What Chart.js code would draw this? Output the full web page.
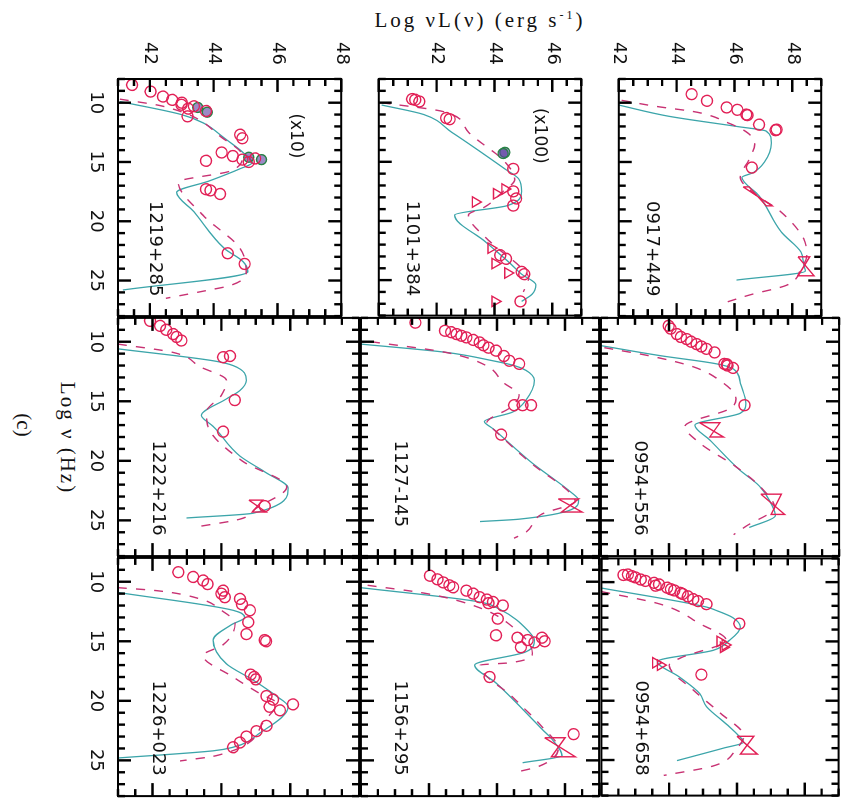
<!DOCTYPE html>
<html>
<head>
<meta charset="utf-8">
<script src="https://cdn.jsdelivr.net/npm/chart.js@4.4.1/dist/chart.umd.min.js"></script>
<style>
body { margin: 0; background: #fff; width: 849px; height: 803px; overflow: hidden; }
/* the figure is built upright and turned a quarter turn, like the scan */
#fig { position: absolute; left: 0; top: 0; width: 803px; height: 849px; transform-origin: 0 0; transform: translate(849px, 0) rotate(90deg); }
#fig canvas { position: absolute; }
.lbl { position: absolute; font-family: 'Liberation Serif', 'DejaVu Serif', serif; color: #111; white-space: nowrap; }
</style>
</head>
<body>
<div id="fig">
  <div class="lbl" style="left:20px;top:369px;font-size:21px;letter-spacing:3px;transform:translate(-50%,-50%) rotate(-90deg)">Log &nu;L(&nu;) (erg s<sup style="font-size:12px">-1</sup>)</div>
  <div class="lbl" style="left:438px;top:782px;font-size:21px;letter-spacing:2px;transform:translate(-50%,-50%)">Log &nu; (Hz)</div>
  <div class="lbl" style="left:425px;top:826px;font-size:21px;transform:translate(-50%,-50%)">(c)</div>
</div>
<script>
// Panneaux, ligne par ligne (figure droite)
const panelNames = ['0917+449', '0954+556', '0954+658',
                    '1101+384', '1127-145', '1156+295',
                    '1219+285', '1222+216', '1226+023'];
const panelNotes = ['', '', '', '(x100)', '', '', '(x10)', '', ''];
const yMins = [42, 42, 42, 40, 40, 40, 41, 41, 41];
const yMaxs = [49, 49, 49, 47, 47, 47, 48, 48, 48];
const xMin = 8, xMax = 28;
const xTickLabels = [10, 15, 20, 25];
const yTickLabels = [[42, 44, 46, 48], [42, 44, 46], [42, 44, 46, 48]];
// graduations du cadre : toutes les unités en x, demi-unités en y
const xFrameTicks = [8, 9, 10, 11, 12, 13, 14, 15, 16, 17, 18, 19, 20, 21, 22, 23, 24, 25, 26, 27, 28];
const yFrameStep = 0.5;

// points observés [log nu, log nuL]
const circles = [
  [[9.28,44.52],[9.84,45.05],[10.4,45.73],[10.6,46.1],[11.0,46.41],[11.05,46.45],[11.85,46.85],[12.27,47.46],[12.32,47.42],[15.47,46.6]],
  [[8.67,43.99],[8.9,44.05],[9.36,44.23],[9.6,44.35],[9.78,44.52],[10.0,44.65],[10.2,44.81],[10.4,44.95],[10.6,45.1],[10.9,45.34],[11.86,45.63],[11.9,45.7],[12.0,45.72],[12.2,45.88],[15.33,46.22]],
  [[9.36,42.78],[9.4,42.65],[9.5,42.9],[9.6,43.0],[9.78,43.16],[9.9,43.3],[10.06,43.55],[10.2,43.7],[10.3,43.6],[10.47,43.94],[10.6,44.05],[10.7,44.15],[10.9,44.33],[11.0,44.4],[11.2,44.55],[11.44,44.71],[11.6,44.85],[11.86,45.1],[13.5,46.07],[17.8,44.95]],
  [[9.7,41.15],[9.76,41.26],[9.9,41.4],[11.3,42.33],[11.4,42.45],[15.6,44.65],[17.5,44.65],[18.1,44.75],[18.7,44.65],[22.9,44.2],[23.2,44.4],[24.3,44.94],[24.5,45.03],[26.8,44.9]],
  [[8.4,41.6],[9.08,42.47],[9.2,42.65],[9.36,42.81],[9.5,42.95],[9.64,43.1],[9.85,43.3],[10.06,43.49],[10.3,43.6],[10.5,43.75],[10.75,43.97],[11.2,44.2],[11.6,44.36],[11.86,44.65],[15.33,44.5],[15.33,44.75],[15.33,45.0],[17.8,44.12]],
  [[9.5,42.03],[9.8,42.25],[10.06,42.42],[10.3,42.6],[10.47,42.71],[10.75,43.1],[11.0,43.3],[11.3,43.49],[11.5,43.7],[11.7,43.88],[11.8,43.75],[12.0,44.17],[13.1,44.02],[14.5,43.97],[14.7,44.6],[14.9,44.9],[15.1,45.1],[14.7,45.32],[15.0,45.4],[15.5,44.7],[18.0,43.78],[22.8,46.25]],
  [[8.5,41.44],[9.06,42.02],[9.48,42.41],[9.76,42.7],[10.0,43.0],[10.17,42.99],[10.3,43.38],[10.5,43.2],[10.7,43.76],[11.15,43.18],[12.7,44.83],[13.0,44.9],[14.2,44.25],[14.5,44.6],[14.8,44.9],[15.0,45.1],[14.7,45.3],[14.9,43.76],[17.3,43.76],[17.4,43.9],[17.7,44.2],[22.7,44.44],[23.6,44.97]],
  [[8.25,41.93],[8.67,42.22],[9.0,42.4],[9.36,42.6],[9.6,42.7],[9.9,42.84],[11.2,44.25],[11.3,44.05],[14.9,44.39],[17.55,44.05],[23.8,45.26]],
  [[9.2,42.75],[9.6,43.18],[9.9,43.47],[10.2,43.6],[10.75,44.05],[11.0,44.0],[11.3,44.1],[11.44,44.54],[11.9,44.6],[12.4,44.83],[13.4,44.78],[14.4,44.73],[14.9,45.26],[15.0,45.3],[17.8,44.85],[18.0,44.95],[18.2,45.0],[19.6,45.31],[19.9,45.5],[20.5,45.4],[20.3,46.08],[20.8,45.7],[22.1,45.31],[22.55,45.02],[23.0,44.73],[23.5,44.54],[23.9,44.34]]
];
const triangles = [
  [], [], [[15.0,45.5],[15.3,45.65],[15.5,45.6],[16.8,43.6],[17.0,43.74]],
  [[17.3,44.36],[17.7,44.07],[18.4,43.34],[22.3,43.88],[23.6,44.02],[24.4,44.46],[26.8,44.02]],
  [], [], [], [], []
];
const colouredPts = [[], [], [], [[14.2,44.36],[14.3,44.3]], [], [], [[10.4,43.5],[10.8,43.8],[14.6,45.1],[14.8,45.5]], [], []];
// spectres X / gamma en "noeud papillon"
const bowties = [
  [[[17.1,46.3],[18.7,47.3],[18.7,47.1],[17.1,46.5],[17.1,46.3]], [[23.0,48.2],[24.6,48.75],[24.6,48.2],[23.0,48.6],[23.0,48.2]]],
  [[[16.8,44.9],[18.0,45.6],[18.0,45.2],[16.8,45.5],[16.8,44.9]], [[22.8,46.7],[24.5,47.4],[24.5,47.0],[22.8,47.3],[22.8,46.7]]],
  [[[23.0,46.0],[24.5,46.6],[24.5,46.1],[23.0,46.5],[23.0,46.0]]],
  [],
  [[[23.2,45.8],[24.3,46.5],[24.3,45.9],[23.2,46.4],[23.2,45.8]]],
  [[[23.1,45.4],[24.7,46.3],[24.7,45.6],[23.1,46.0],[23.1,45.4]]],
  [],
  [[[23.3,44.8],[24.3,45.3],[24.3,44.9],[23.3,45.2],[23.3,44.8]]],
  []
];
// modèle trait plein
const solidModel = [
  [[10.2,42.0],[11.15,43.74],[12.0,46.07],[12.4,47.1],[13.4,47.28],[15.0,47.04],[15.9,46.65],[16.3,46.26],[17.85,46.85],[20.9,47.62],[22.6,48.3],[23.7,48.4],[24.2,48.45],[24.96,46.07]],
  [[10.33,42.0],[11.17,43.74],[11.86,45.4],[12.3,45.9],[13.5,46.1],[15.2,46.26],[16.0,46.1],[17.0,44.76],[18.25,45.2],[20.75,46.07],[22.1,46.65],[23.8,47.04],[24.6,47.13],[25.6,46.36]],
  [[10.5,42.0],[12.1,45.1],[12.4,45.4],[13.0,45.88],[13.8,46.1],[14.9,45.78],[15.75,45.3],[16.7,43.65],[18.0,44.3],[19.4,44.9],[20.5,45.1],[22.0,45.7],[23.0,46.07],[23.5,46.2],[24.0,45.6],[25.05,44.23]],
  [[10.2,40.1],[11.0,41.55],[12.5,42.52],[15.6,44.36],[16.45,44.84],[17.5,44.94],[18.7,44.45],[19.5,42.62],[21.75,43.68],[23.4,44.46],[24.5,44.94],[25.4,45.43],[26.2,45.3],[26.8,44.94]],
  [[10.2,40.0],[10.9,42.52],[11.6,43.88],[12.0,44.5],[12.4,44.85],[13.25,45.1],[14.9,44.85],[15.9,44.46],[16.7,43.63],[17.3,43.88],[20.2,45.04],[22.7,46.2],[23.3,46.4],[24.9,44.65],[25.1,43.5]],
  [[10.5,40.0],[11.7,43.49],[12.3,44.07],[14.2,44.94],[14.9,45.1],[15.9,44.84],[17.0,43.34],[18.5,43.97],[22.4,45.33],[23.25,45.62],[24.6,45.91],[25.2,44.75]],
  [[9.9,41.06],[11.0,42.99],[11.7,43.67],[13.0,44.34],[14.2,44.92],[15.05,45.21],[15.6,44.8],[16.6,43.86],[17.57,42.84],[19.2,43.38],[22.3,44.34],[23.4,44.92],[24.26,45.07],[25.8,41.15]],
  [[10.6,41.0],[11.6,43.76],[12.0,44.34],[13.25,44.73],[14.1,44.54],[14.8,44.15],[16.2,43.42],[17.1,43.76],[19.6,44.54],[21.0,45.3],[22.3,45.94],[24.4,44.92],[24.8,42.99]],
  [[10.9,41.0],[12.4,44.34],[13.0,44.68],[13.6,44.3],[14.9,43.76],[16.9,44.15],[18.25,44.92],[19.6,45.6],[20.5,45.94],[22.7,45.12],[23.9,44.34],[24.2,43.76],[24.8,41.0]]
];
// modèle tirets
const dashedModel = [
  [[9.8,42.1],[10.3,43.26],[10.8,44.7],[11.7,45.78],[12.55,46.46],[13.5,46.7],[14.8,46.5],[16.3,46.2],[17.5,46.6],[19.2,47.6],[21.5,48.4],[22.9,48.5],[24.0,48.3],[25.4,47.8],[26.2,46.55],[27.0,45.5]],
  [[10.5,42.1],[11.2,43.45],[12.1,44.71],[13.25,45.49],[14.8,45.97],[15.6,45.8],[17.1,44.47],[18.5,44.9],[20.5,45.97],[22.1,46.65],[23.9,47.1],[25.5,46.26],[26.2,45.9]],
  [[10.8,42.0],[11.86,43.74],[13.5,44.9],[14.9,45.68],[16.4,44.33],[17.0,44.0],[19.1,44.71],[21.0,45.49],[23.0,46.2],[24.0,46.0],[25.5,45.3],[26.3,43.84]],
  [[10.0,40.1],[10.8,42.3],[12.5,43.1],[15.0,44.36],[16.5,44.7],[17.5,44.3],[18.8,43.68],[19.5,43.1],[21.6,43.78],[24.0,44.94],[24.8,45.18],[26.0,45.0]],
  [[10.0,40.3],[10.9,42.5],[12.0,43.68],[13.4,44.17],[14.5,44.65],[15.5,44.4],[16.8,43.7],[17.3,43.88],[20.2,45.0],[22.7,46.15],[23.4,46.3],[24.5,45.3],[26.0,44.85],[26.5,44.5]],
  [[10.3,40.2],[11.0,41.94],[12.2,43.5],[13.8,44.46],[16.0,45.04],[16.8,44.4],[17.0,43.5],[19.7,44.46],[22.2,45.33],[24.0,45.8],[25.5,45.23],[26.0,44.55]],
  [[9.7,41.06],[10.3,42.41],[13.1,44.34],[14.5,44.9],[15.75,44.54],[16.7,42.89],[19.5,43.67],[22.3,44.83],[24.3,45.02],[25.4,44.54],[25.9,43.67],[26.5,42.5]],
  [[10.2,41.0],[10.9,42.6],[12.1,43.38],[13.25,44.15],[14.5,44.0],[15.9,43.57],[17.0,43.6],[20.0,44.6],[22.2,45.9],[24.0,45.0],[24.9,44.54],[25.5,43.38]],
  [[10.5,41.0],[10.75,42.12],[11.44,43.38],[12.4,44.0],[13.5,44.4],[15.3,44.05],[16.2,43.47],[18.0,44.34],[19.4,45.12],[20.2,45.6],[21.5,45.3],[24.6,43.86],[25.05,42.8]]
];

// cadres des panneaux (repère de la figure droite)
const colEdges = [79, 317, 557, 797];
const rowEdges = [9, 249, 489, 731];

const RED = 'rgb(226,32,86)';
const TEAL = 'rgb(60,165,170)';
const MAGENTA = 'rgb(200,50,115)';
const toXY = arr => arr.map(([x, y]) => ({ x, y }));

// cadre, graduations rentrantes (plus épaisses) et étiquettes des panneaux
const framePlugin = {
  id: 'frame',
  afterDraw(chart, args, opts) {
    const ctx = chart.ctx, a = chart.chartArea;
    const sx = chart.scales.x, sy = chart.scales.y;
    ctx.save();
    ctx.setLineDash([]);
    ctx.strokeStyle = '#000';
    ctx.lineCap = 'butt';
    ctx.lineWidth = 2.4;
    const marks = new Path2D();
    xFrameTicks.forEach(v => {
      const len = v % 5 === 0 ? 13 : 7;
      const px = sx.getPixelForValue(v);
      marks.moveTo(px, a.bottom);
      marks.lineTo(px, a.bottom - len);
      marks.moveTo(px, a.top);
      marks.lineTo(px, a.top + len);
    });
    const steps = Math.round((sy.max - sy.min) / yFrameStep);
    for (let k = 0; k <= steps; k++) {
      const v = sy.min + k * yFrameStep;
      const len = Math.abs(v % 2) < 0.001 ? 13 : 7;
      const py = sy.getPixelForValue(v);
      marks.moveTo(a.left, py);
      marks.lineTo(a.left + len, py);
      marks.moveTo(a.right, py);
      marks.lineTo(a.right - len, py);
    }
    ctx.stroke(marks);
    ctx.lineWidth = 2;
    ctx.strokeRect(a.left, a.top, a.right - a.left, a.bottom - a.top);
    ctx.fillStyle = '#111';
    ctx.font = '18px "DejaVu Sans"';
    ctx.textBaseline = 'middle';
    ctx.textAlign = 'left';
    ctx.fillText(opts.name, sx.getPixelForValue(18.3), sy.getPixelForValue(sy.min + 1.15));
    if (opts.note) {
      ctx.textAlign = 'center';
      ctx.font = '17px "DejaVu Sans"';
      ctx.fillText(opts.note, sx.getPixelForValue(12.8), sy.getPixelForValue(sy.max - 1.45));
    }
    ctx.restore();
  }
};

const fig = document.getElementById('fig');

panelNames.forEach((name, p) => {
  const r = Math.floor(p / 3), c = p % 3;
  const padL = c === 0 ? 80 : 6, padB = r === 2 ? 45 : 6, padT = 6, padR = 6;
  const w = colEdges[c + 1] - colEdges[c], h = rowEdges[r + 1] - rowEdges[r];
  const cv = document.createElement('canvas');
  cv.width = w + padL + padR;
  cv.height = h + padT + padB;
  cv.style.left = (colEdges[c] - padL) + 'px';
  cv.style.top = (rowEdges[r] - padT) + 'px';
  fig.appendChild(cv);

  const datasets = [
    { data: toXY(solidModel[p]), showLine: true, pointRadius: 0, borderColor: TEAL, borderWidth: 1.3, cubicInterpolationMode: 'monotone', order: 3 },
    { data: toXY(dashedModel[p]), showLine: true, pointRadius: 0, borderColor: MAGENTA, borderWidth: 1.4, borderDash: [9, 9], cubicInterpolationMode: 'monotone', order: 2 },
    { data: toXY(circles[p]), pointStyle: 'circle', pointRadius: 5.5, pointBorderWidth: 1.4, pointBorderColor: RED, pointBackgroundColor: 'rgba(0,0,0,0)', order: 0 },
    { data: toXY(triangles[p]), pointStyle: 'triangle', pointRadius: 6, pointBorderWidth: 1.4, pointBorderColor: RED, pointBackgroundColor: 'rgba(0,0,0,0)', order: 0 },
    { data: toXY(colouredPts[p]), pointStyle: 'circle', pointRadius: 5, pointBorderWidth: 1.4, pointBorderColor: 'rgb(40,130,70)', pointBackgroundColor: 'rgba(90,60,160,0.6)', order: 0 }
  ];
  bowties[p].forEach(b => datasets.push({ data: toXY(b), showLine: true, pointRadius: 0, borderColor: RED, borderWidth: 1.4, order: 1 }));

  new Chart(cv, {
    type: 'scatter',
    data: { datasets },
    options: {
      responsive: false,
      animation: false,
      devicePixelRatio: 1,
      layout: { padding: { top: padT, right: padR, left: 0, bottom: 0 } },
      plugins: { legend: { display: false }, tooltip: { enabled: false }, frame: { name, note: panelNotes[p] } },
      scales: {
        x: {
          type: 'linear', min: xMin, max: xMax,
          grid: { display: false, drawTicks: false }, border: { display: false },
          afterBuildTicks: s => { s.ticks = xTickLabels.map(v => ({ value: v })); },
          afterFit: s => { s.height = padB; },
          ticks: { display: r === 2, padding: 12, maxRotation: 0, autoSkip: false, color: '#111', font: { family: 'DejaVu Sans', size: 18 } }
        },
        y: {
          type: 'linear', min: yMins[p], max: yMaxs[p],
          grid: { display: false, drawTicks: false }, border: { display: false },
          afterBuildTicks: s => { s.ticks = yTickLabels[r].map(v => ({ value: v })); },
          afterFit: s => { s.width = padL; },
          ticks: { display: c === 0, padding: 14, autoSkip: false, color: '#111', font: { family: 'DejaVu Sans', size: 18 } }
        }
      }
    },
    plugins: [framePlugin]
  });
});
</script>
</body>
</html>
